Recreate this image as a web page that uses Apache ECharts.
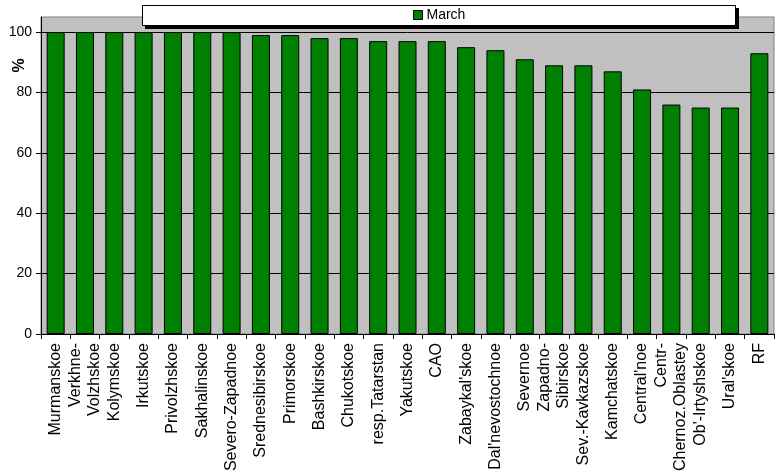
<!DOCTYPE html>
<html>
<head>
<meta charset="utf-8">
<script src="https://cdn.jsdelivr.net/npm/echarts@6/dist/echarts.min.js"></script>
<style>html,body{margin:0;padding:0;background:#fff}#c{width:780px;height:475px}</style>
</head>
<body>
<div id="c"></div>
<script>
const categories = ["Murmanskoe","Verkhne-\nVolzhskoe","Kolymskoe","Irkutskoe","Privolzhskoe","Sakhalinskoe","Severo-Zapadnoe","Srednesibirskoe","Primorskoe","Bashkirskoe","Chukotskoe","resp.Tatarstan","Yakutskoe","CAO","Zabaykal'skoe","Dal'nevostochnoe","Severnoe","Zapadno-\nSibirskoe","Sev.-Kavkazskoe","Kamchatskoe","Central'noe","Centr-\nChernoz.Oblastey","Ob'-Irtyshskoe","Ural'skoe","RF"];
const march = [100,100,100,100,100,100,100,99,99,98,98,97,97,97,95,94,91,89,89,87,81,76,75,75,93];
const yTicks = [0,20,40,60,80,100];
const seriesName = "March";
const yName = "%";

const FONT = "'Liberation Sans', Arial, sans-serif";
const chart = echarts.init(document.getElementById('c'), null, {renderer:'canvas'});
chart.setOption({
  animation:false,
  backgroundColor:'#fff',
  textStyle:{fontFamily:FONT},
  grid:{left:41,right:6,top:17,bottom:141,show:true,backgroundColor:'#c0c0c0',borderColor:'#808080',borderWidth:1,containLabel:false},
  legend:{
    left:413, top:8, padding:0, z:10,
    itemWidth:9, itemHeight:9, itemGap:5, icon:'rect',
    textStyle:{fontSize:14,color:'#000',fontFamily:FONT,padding:[0,0,0,-1]},
    data:[{name:seriesName,itemStyle:{color:'#008000',borderColor:'#000',borderWidth:1}}]
  },
  graphic:[
    {type:'rect',z:5,shape:{x:145,y:8,width:594,height:21},style:{fill:'#000'}},
    {type:'rect',z:6,shape:{x:142.5,y:5.5,width:593,height:20},style:{fill:'#fff',stroke:'#000',lineWidth:1}},
    {type:'text',x:19.5,y:65.5,rotation:Math.PI/2,style:{text:yName,font:'bold 16px '+FONT,fill:'#000',align:'center',verticalAlign:'middle'}}
  ],
  xAxis:{
    type:'category', data:categories, boundaryGap:true,
    axisLine:{lineStyle:{color:'#000',width:1}},
    axisTick:{show:true,length:5,alignWithLabel:false,lineStyle:{color:'#000'}},
    axisLabel:{rotate:90,interval:0,fontSize:16,color:'#000',margin:9,fontFamily:FONT,lineHeight:19}
  },
  yAxis:{
    type:'value', min:0, max:105, interval:20,
    axisLine:{show:true,lineStyle:{color:'#000'}},
    axisTick:{show:true,length:5,lineStyle:{color:'#000'},customValues:yTicks},
    axisLabel:{fontSize:14,color:'#000',margin:9,fontFamily:FONT,customValues:yTicks},
    splitLine:{show:true,lineStyle:{color:'#000',width:1}}
  },
  series:[{
    name:seriesName, type:'bar', data:march, barWidth:18,
    itemStyle:{color:'#008000',borderColor:'#000',borderWidth:1}
  }]
});
</script>
</body>
</html>
